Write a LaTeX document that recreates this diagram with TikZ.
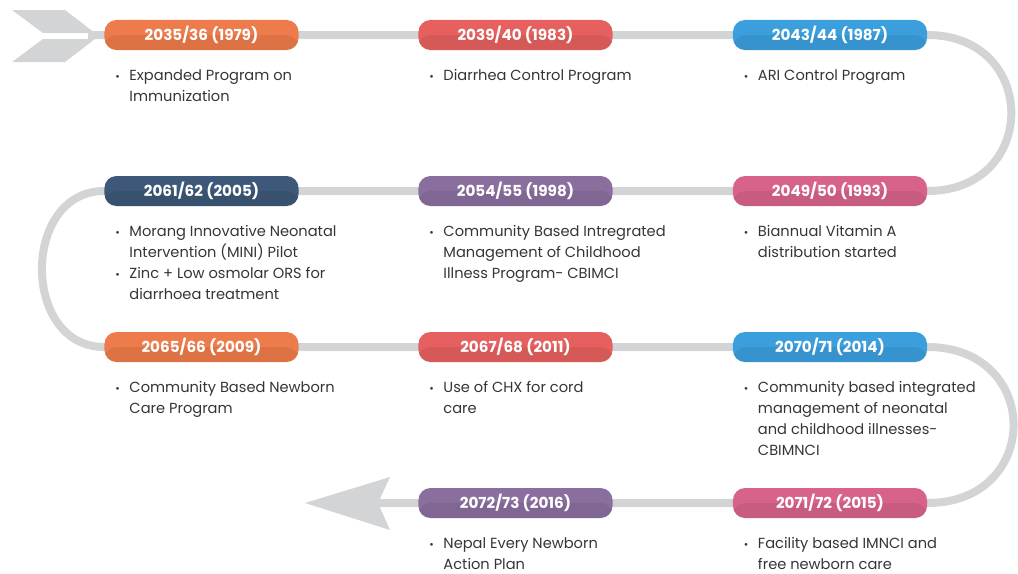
\documentclass[tikz,border=0pt]{standalone}
\usepackage{fontspec}
\setmainfont{Poppins}
\usepackage{xcolor}
\usepackage{tikz}
\usetikzlibrary{backgrounds}

\definecolor{orng}{HTML}{EE7B4B}
\definecolor{coral}{HTML}{E5605E}
\definecolor{sky}{HTML}{3C9FDD}
\definecolor{rose}{HTML}{D8638A}
\definecolor{plum}{HTML}{8A6E9E}
\definecolor{navy}{HTML}{3D5878}
\definecolor{trackgray}{HTML}{D2D4D6}
\definecolor{txtgray}{HTML}{353535}

\newcommand{\bul}{\makebox[0.35cm][l]{\scalebox{0.75}{\textbullet}}}

\tikzset{
  pill/.style={fill=#1,rounded corners=0.3cm,minimum width=4.85cm,minimum height=0.75cm,
    inner sep=0pt,text=white,font=\fontsize{10.8}{12}\selectfont\bfseries,
    path picture={\fill[black,opacity=0.07] (path picture bounding box.west) rectangle (path picture bounding box.south east);}},
  desc/.style={anchor=base west,inner sep=0pt,text=txtgray,font=\fontsize{10.4}{14.9}\selectfont},
  track/.style={draw=trackgray,line width=0.2cm}
}

\begin{document}
\begin{tikzpicture}[x=0.025cm,y=-0.025cm]
		\useasboundingbox (0,0) rectangle (1018,573);
		% milestones
		\node[pill=orng] (P1) at (201.5,35) {2035/36 (1979)};
		\node[pill=coral] (P2) at (515.5,35) {2039/40 (1983)};
		\node[pill=sky] (P3) at (830,35) {2043/44 (1987)};
		\node[pill=rose] (P4) at (830,191) {2049/50 (1993)};
		\node[pill=plum] (P5) at (515.5,191) {2054/55 (1998)};
		\node[pill=navy] (P6) at (201.5,191) {2061/62 (2005)};
		\node[pill=orng] (P7) at (201.5,347) {2065/66 (2009)};
		\node[pill=coral] (P8) at (515.5,347) {2067/68 (2011)};
		\node[pill=sky] (P9) at (830,347) {2070/71 (2014)};
		\node[pill=rose] (P10) at (830,503) {2071/72 (2015)};
		\node[pill=plum] (P11) at (515.5,503) {2072/73 (2016)};
		%
		\node[desc] (T1) at ([shift={(11,30)}]P1.south west) {\begin{tabular}[t]{@{}l@{}l@{}}\bul & Expanded Program on\\ & Immunization\end{tabular}};
		\node[desc] (T2) at ([shift={(11,30)}]P2.south west) {\begin{tabular}[t]{@{}l@{}l@{}}\bul & Diarrhea Control Program\end{tabular}};
		\node[desc] (T3) at ([shift={(11,30)}]P3.south west) {\begin{tabular}[t]{@{}l@{}l@{}}\bul & ARI Control Program\end{tabular}};
		\node[desc] (T4) at ([shift={(11,30)}]P4.south west) {\begin{tabular}[t]{@{}l@{}l@{}}\bul & Biannual Vitamin A\\ & distribution started\end{tabular}};
		\node[desc] (T5) at ([shift={(11,30)}]P5.south west) {\begin{tabular}[t]{@{}l@{}l@{}}\bul & Community Based Intregrated\\ & Management of Childhood\\ & Illness Program- CBIMCI\end{tabular}};
		\node[desc] (T6) at ([shift={(11,30)}]P6.south west) {\begin{tabular}[t]{@{}l@{}l@{}}\bul & Morang Innovative Neonatal\\ & Intervention (MINI) Pilot\\ \bul & Zinc + Low osmolar ORS for\\ & diarrhoea treatment\end{tabular}};
		\node[desc] (T7) at ([shift={(11,30)}]P7.south west) {\begin{tabular}[t]{@{}l@{}l@{}}\bul & Community Based Newborn\\ & Care Program\end{tabular}};
		\node[desc] (T8) at ([shift={(11,30)}]P8.south west) {\begin{tabular}[t]{@{}l@{}l@{}}\bul & Use of CHX for cord\\ & care\end{tabular}};
		\node[desc] (T9) at ([shift={(11,30)}]P9.south west) {\begin{tabular}[t]{@{}l@{}l@{}}\bul & Community based integrated\\ & management of neonatal\\ & and childhood illnesses-\\ & CBIMNCI\end{tabular}};
		\node[desc] (T10) at ([shift={(11,30)}]P10.south west) {\begin{tabular}[t]{@{}l@{}l@{}}\bul & Facility based IMNCI and\\ & free newborn care\end{tabular}};
		\node[desc] (T11) at ([shift={(11,30)}]P11.south west) {\begin{tabular}[t]{@{}l@{}l@{}}\bul & Nepal Every Newborn\\ & Action Plan\end{tabular}};
		%
		\coordinate (S) at (88,35);
		\coordinate (E) at (378,503);
		\begin{pgfonlayer}{background}
		\path[track]
		(S) -- (P1.center) -- (P3.center) -- (P3.east)
		.. controls +(112,0) and +(112,0) .. (P4.east) -- (P6.center) -- (P6.west)
		.. controls +(-83,0) and +(-83,0) .. (P7.west) -- (P9.center) -- (P9.east)
		.. controls +(115,0) and +(115,0) .. (P10.east) -- (P11.center) -- (E);
		% tail and head
		\fill[trackgray] (12,10) -- (65,10) -- (95,33) -- (43,33) -- cycle;
		\fill[trackgray] (12,62) -- (65,62) -- (95,39) -- (43,39) -- cycle;
		\fill[trackgray] (305,503) -- (390,477) -- (E) -- (390,530) -- cycle;
		\end{pgfonlayer}
		\end{tikzpicture}
\end{document}
